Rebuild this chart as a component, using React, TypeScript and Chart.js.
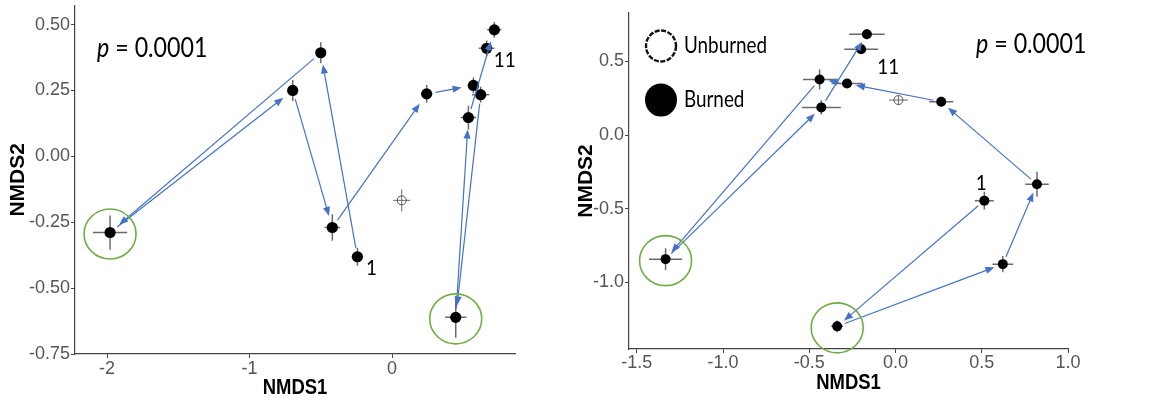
import React, { useEffect, useRef } from 'react';
import { Chart, registerables } from 'chart.js';

Chart.register(...registerables);

// ---------- LEFT PANEL DATA (burned sites, in trajectory order) ----------
const leftX = [-0.243, -0.5, -1.979, -0.697, -0.419, 0.243, 0.571, 0.622, 0.447, 0.536, 0.718, 0.664];
const leftY = [-0.381, 0.393, -0.289, 0.25, -0.27, 0.237, 0.269, 0.234, -0.611, 0.147, 0.48, 0.41];
const leftXErr = [0.04, 0.035, 0.12, 0.035, 0.055, 0.04, 0.04, 0.06, 0.075, 0.055, 0.05, 0.055];
const leftYErr = [0.034, 0.04, 0.065, 0.04, 0.05, 0.034, 0.03, 0.03, 0.077, 0.045, 0.03, 0.03];
const leftUnburnedX = [0.068];
const leftUnburnedY = [-0.167];
const leftUnburnedXErr = [0.06];
const leftUnburnedYErr = [0.042];
const leftCircled = [2, 8];
const leftLabelIndex = [0, 11];
const leftLabelText = ['1', '11'];
const leftXTicks = [-2, -1, 0];
const leftYTicks = [-0.75, -0.5, -0.25, 0, 0.25, 0.5];

// ---------- RIGHT PANEL DATA (burned sites, in trajectory order) ----------
const rightX = [0.515, -0.338, 0.622, 0.82, 0.265, -0.281, -0.44, -1.333, -0.43, -0.166, -0.199];
const rightY = [-0.446, -1.301, -0.878, -0.335, 0.226, 0.351, 0.378, -0.844, 0.188, 0.686, 0.584];
const rightXErr = [0.055, 0.035, 0.06, 0.068, 0.07, 0.09, 0.096, 0.096, 0.113, 0.103, 0.098];
const rightYErr = [0.06, 0.04, 0.055, 0.085, 0.035, 0.03, 0.068, 0.074, 0.048, 0.035, 0.03];
const rightUnburnedX = [0.017];
const rightUnburnedY = [0.238];
const rightUnburnedXErr = [0.055];
const rightUnburnedYErr = [0.03];
const rightCircled = [7, 1];
const rightLabelIndex = [0, 10];
const rightLabelText = ['1', '11'];
const rightXTicks = [-1.5, -1.0, -0.5, 0.0, 0.5, 1.0];
const rightYTicks = [-1.0, -0.5, 0.0, 0.5];

const pText = 'p';
const pValueText = ' = 0.0001';
const legendLabels = ['Unburned', 'Burned'];
const xTitle = 'NMDS1';
const yTitle = 'NMDS2';

// ---------- STYLES ----------
const ARROW = '#4472C4';
const GREEN = '#70AD47';
const ERR = '#6b6b6b';
const AXIS = '#444444';
const TICKC = '#555555';
const TICK_FONT = '"Liberation Sans", Arial, sans-serif';
const ANNOT_FONT = 'Lato, "Open Sans", sans-serif';

type PanelCfg = {
  xs: number[]; ys: number[]; xe: number[]; ye: number[];
  ux: number[]; uy: number[]; uxe: number[]; uye: number[];
  circled: number[]; labelIdx: number[]; labelText: string[];
  labelOffsets: number[][];
  gapStart: number; gapEnd: number;
  pPos: [number, number];
  legend: boolean;
  pointR: number;
  xTitleFromBottom: number;
};

function drawText(ctx: CanvasRenderingContext2D, text: string, x: number, y: number, font: string, sx: number) {
  ctx.save();
  ctx.translate(x, y);
  ctx.scale(sx, 1);
  ctx.font = font;
  ctx.fillText(text, 0, 0);
  const w = ctx.measureText(text).width * sx;
  ctx.restore();
  return w;
}

function drawArrow(ctx: CanvasRenderingContext2D, x1: number, y1: number, x2: number, y2: number, g1: number, g2: number) {
  const dx = x2 - x1, dy = y2 - y1;
  const L = Math.hypot(dx, dy);
  if (L < g1 + g2 + 4) return;
  const ux = dx / L, uy = dy / L;
  const sx = x1 + ux * g1, sy = y1 + uy * g1;
  const ex = x2 - ux * g2, ey = y2 - uy * g2;
  const hl = 9, hw = 3.6;
  ctx.strokeStyle = ARROW;
  ctx.fillStyle = ARROW;
  ctx.lineWidth = 1.2;
  ctx.beginPath();
  ctx.moveTo(sx, sy);
  ctx.lineTo(ex - ux * hl * 0.8, ey - uy * hl * 0.8);
  ctx.stroke();
  ctx.beginPath();
  ctx.moveTo(ex, ey);
  ctx.lineTo(ex - ux * hl - uy * hw, ey - uy * hl + ux * hw);
  ctx.lineTo(ex - ux * hl + uy * hw, ey - uy * hl - ux * hw);
  ctx.closePath();
  ctx.fill();
}

function makePlugin(cfg: PanelCfg) {
  return {
    id: 'nmdsDecor',
    beforeDatasetsDraw(chart: any) {
      const { ctx, scales } = chart;
      const xs = scales.x, ys = scales.y;
      ctx.save();
      ctx.strokeStyle = ERR;
      ctx.lineWidth = 1.5;
      const bars = (X: number[], Y: number[], XE: number[], YE: number[]) => {
        X.forEach((x, i) => {
          const px = xs.getPixelForValue(x), py = ys.getPixelForValue(Y[i]);
          ctx.beginPath();
          ctx.moveTo(xs.getPixelForValue(x - XE[i]), py);
          ctx.lineTo(xs.getPixelForValue(x + XE[i]), py);
          ctx.moveTo(px, ys.getPixelForValue(Y[i] - YE[i]));
          ctx.lineTo(px, ys.getPixelForValue(Y[i] + YE[i]));
          ctx.stroke();
        });
      };
      bars(cfg.xs, cfg.ys, cfg.xe, cfg.ye);
      ctx.lineWidth = 1;
      bars(cfg.ux, cfg.uy, cfg.uxe, cfg.uye);
      ctx.restore();
    },
    afterDatasetsDraw(chart: any) {
      const { ctx, scales, chartArea } = chart;
      const xs = scales.x, ys = scales.y;
      ctx.save();
      for (let i = 0; i < cfg.xs.length - 1; i++) {
        drawArrow(ctx,
          xs.getPixelForValue(cfg.xs[i]), ys.getPixelForValue(cfg.ys[i]),
          xs.getPixelForValue(cfg.xs[i + 1]), ys.getPixelForValue(cfg.ys[i + 1]),
          cfg.gapStart, cfg.gapEnd);
      }
      ctx.strokeStyle = GREEN;
      ctx.lineWidth = 1.6;
      cfg.circled.forEach((i) => {
        ctx.beginPath();
        ctx.ellipse(xs.getPixelForValue(cfg.xs[i]), ys.getPixelForValue(cfg.ys[i]) + 1.5, 26, 25, 0, 0, Math.PI * 2);
        ctx.stroke();
      });
      ctx.fillStyle = '#000';
      ctx.textAlign = 'center';
      ctx.textBaseline = 'middle';
      cfg.labelIdx.forEach((i, k) => {
        const px = xs.getPixelForValue(cfg.xs[i]) + cfg.labelOffsets[k][0];
        const py = ys.getPixelForValue(cfg.ys[i]) + cfg.labelOffsets[k][1];
        drawText(ctx, cfg.labelText[k], px, py, `22px ${ANNOT_FONT}`, 0.86);
      });
      // x-axis title (horizontally condensed like the source figure)
      drawText(ctx, xTitle, (chartArea.left + chartArea.right) / 2, chart.height - cfg.xTitleFromBottom,
        `bold 22px ${TICK_FONT}`, 0.84);
      // p value
      ctx.textAlign = 'left';
      const [ppx, ppy] = cfg.pPos;
      const w = drawText(ctx, pText, chartArea.left + ppx, chartArea.top + ppy, `italic 27px ${ANNOT_FONT}`, 0.86);
      drawText(ctx, pValueText, chartArea.left + ppx + w, chartArea.top + ppy, `27px ${ANNOT_FONT}`, 0.86);
      if (cfg.legend) {
        const lx = chartArea.left + 32;
        const ly1 = chartArea.top + 33, ly2 = chartArea.top + 87;
        ctx.strokeStyle = '#111';
        ctx.lineWidth = 2.4;
        ctx.setLineDash([5, 1.5]);
        ctx.beginPath();
        ctx.ellipse(lx, ly1, 15, 15.5, 0, 0, Math.PI * 2);
        ctx.stroke();
        ctx.setLineDash([]);
        ctx.fillStyle = '#000';
        ctx.beginPath();
        ctx.ellipse(lx, ly2, 16, 16.5, 0, 0, Math.PI * 2);
        ctx.fill();
        drawText(ctx, legendLabels[0], lx + 23, ly1, `23px ${ANNOT_FONT}`, 0.82);
        drawText(ctx, legendLabels[1], lx + 23, ly2, `23px ${ANNOT_FONT}`, 0.82);
      }
      ctx.restore();
    },
  };
}

type AxisCfg = {
  xMin: number; xMax: number; yMin: number; yMax: number;
  xTicks: number[]; yTicks: number[]; xDec: number; yDec: number;
  yWidth: number; xHeight: number;
  pad: { left: number; right: number; top: number; bottom: number };
  yTitlePad: number; xTickPad: number; yTickPad: number;
};

function buildConfig(cfg: PanelCfg, ax: AxisCfg): any {
  const tickFont = { family: TICK_FONT, size: 18 };
  const titleFont = { family: TICK_FONT, size: 21, weight: 'bold' as const };
  return {
    type: 'scatter',
    data: {
      datasets: [
        {
          label: 'Burned',
          data: cfg.xs.map((x, i) => ({ x, y: cfg.ys[i] })),
          pointRadius: cfg.pointR,
          backgroundColor: '#000',
          borderColor: '#000',
          borderWidth: 0,
        },
        {
          label: 'Unburned',
          data: cfg.ux.map((x, i) => ({ x, y: cfg.uy[i] })),
          pointRadius: 4.5,
          backgroundColor: 'rgba(0,0,0,0)',
          borderColor: '#555',
          borderWidth: 1,
        },
      ],
    },
    options: {
      animation: false,
      responsive: false,
      events: [],
      layout: { padding: ax.pad },
      plugins: { legend: { display: false }, tooltip: { enabled: false } },
      scales: {
        x: {
          type: 'linear',
          min: ax.xMin,
          max: ax.xMax,
          afterBuildTicks: (s: any) => { s.ticks = ax.xTicks.map((v) => ({ value: v })); },
          afterFit: (s: any) => { s.height = ax.xHeight; s.paddingLeft = 0; s.paddingRight = 0; s.paddingTop = 0; s.paddingBottom = 0; },
          ticks: {
            font: tickFont, color: TICKC, padding: ax.xTickPad, maxRotation: 0, autoSkip: false,
            callback: (v: number) => (ax.xDec === 0 ? String(v) : Number(v).toFixed(ax.xDec)),
          },
          grid: { display: true, drawOnChartArea: false, drawTicks: true, tickLength: 4, color: AXIS },
          border: { display: true, color: AXIS, width: 1.2 },
          title: { display: false },
        },
        y: {
          type: 'linear',
          min: ax.yMin,
          max: ax.yMax,
          afterBuildTicks: (s: any) => { s.ticks = ax.yTicks.map((v) => ({ value: v })); },
          afterFit: (s: any) => { s.width = ax.yWidth; s.paddingLeft = 0; s.paddingRight = 0; s.paddingTop = 0; s.paddingBottom = 0; },
          ticks: {
            font: tickFont, color: TICKC, padding: ax.yTickPad, autoSkip: false,
            callback: (v: number) => Number(v).toFixed(ax.yDec),
          },
          grid: { display: true, drawOnChartArea: false, drawTicks: true, tickLength: 4, color: AXIS },
          border: { display: true, color: AXIS, width: 1.2 },
          title: { display: true, text: yTitle, color: '#000', font: titleFont, padding: { top: ax.yTitlePad, bottom: 0 } },
        },
      },
    },
    plugins: [makePlugin(cfg)],
  };
}

const leftPanel: PanelCfg = {
  xs: leftX, ys: leftY, xe: leftXErr, ye: leftYErr,
  ux: leftUnburnedX, uy: leftUnburnedY, uxe: leftUnburnedXErr, uye: leftUnburnedYErr,
  circled: leftCircled, labelIdx: leftLabelIndex, labelText: leftLabelText,
  labelOffsets: [[14, 11], [18, 12]],
  gapStart: 9, gapEnd: 12,
  pPos: [22, 43],
  legend: false,
  pointR: 5.6,
  xTitleFromBottom: 14,
};

const rightPanel: PanelCfg = {
  xs: rightX, ys: rightY, xe: rightXErr, ye: rightYErr,
  ux: rightUnburnedX, uy: rightUnburnedY, uxe: rightUnburnedXErr, uye: rightUnburnedYErr,
  circled: rightCircled, labelIdx: rightLabelIndex, labelText: rightLabelText,
  labelOffsets: [[-3, -18], [27, 18]],
  gapStart: 8, gapEnd: 9,
  pPos: [347, 31],
  legend: true,
  pointR: 5,
  xTitleFromBottom: 19,
};

const leftAxes: AxisCfg = {
  xMin: -2.225, xMax: 0.863, yMin: -0.75, yMax: 0.572,
  xTicks: leftXTicks, yTicks: leftYTicks, xDec: 0, yDec: 2,
  yWidth: 75, xHeight: 48,
  pad: { left: 0, right: 61, top: 5, bottom: 0 },
  yTitlePad: 6, xTickPad: 0, yTickPad: 1,
};

const rightAxes: AxisCfg = {
  xMin: -1.545, xMax: 1.0, yMin: -1.455, yMax: 0.83,
  xTicks: rightXTicks, yTicks: rightYTicks, xDec: 1, yDec: 1,
  yWidth: 53, xHeight: 53,
  pad: { left: 0, right: 88, top: 13, bottom: 0 },
  yTitlePad: -2, xTickPad: -1, yTickPad: 1,
};

function Panel({ cfg, ax, left, width }: { cfg: PanelCfg; ax: AxisCfg; left: number; width: number }) {
  const ref = useRef<HTMLCanvasElement | null>(null);
  useEffect(() => {
    if (!ref.current) return;
    const chart = new Chart(ref.current, buildConfig(cfg, ax));
    return () => chart.destroy();
  }, [cfg, ax]);
  return (
    <canvas
      ref={ref}
      width={width}
      height={402}
      style={{ position: 'absolute', left, top: 0, width, height: 402 }}
    />
  );
}

export default function App() {
  return (
    <div style={{ position: 'fixed', left: 0, top: 0, width: 1156, height: 402, background: '#fff' }}>
      <Panel cfg={leftPanel} ax={leftAxes} left={0} width={576} />
      <Panel cfg={rightPanel} ax={rightAxes} left={576} width={580} />
    </div>
  );
}
